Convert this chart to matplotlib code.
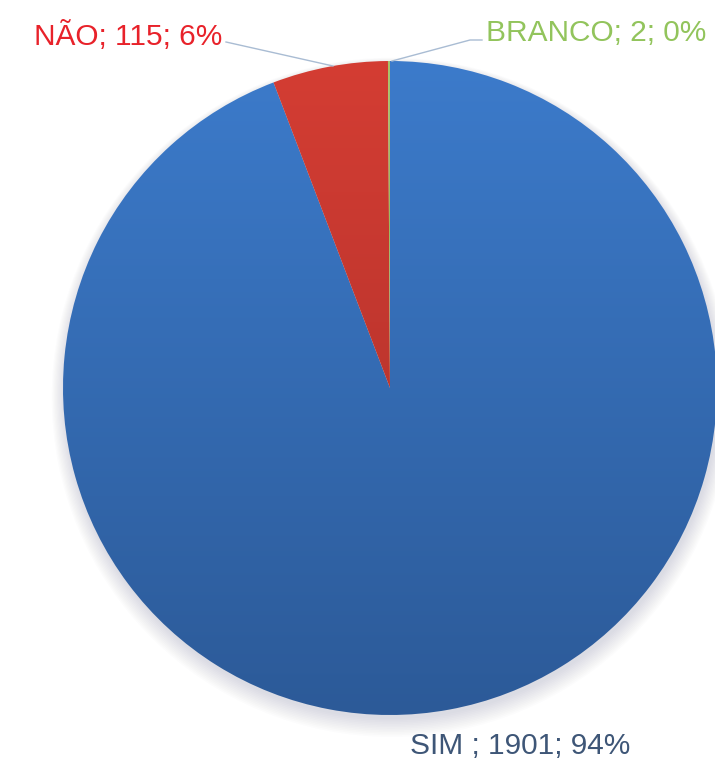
import matplotlib.pyplot as plt
import matplotlib.colors as mcolors
import numpy as np
from matplotlib.patches import Circle

labels = ['SIM', 'NÃO', 'BRANCO']
votes = [1901, 115, 2]
percents = ['94%', '6%', '0%']

top_colors = ['#3c7bcb', '#d43d33', '#a8c46a']
bottom_colors = ['#2c5a98', '#a82e29', '#7f9a45']
label_colors = ['#3e5677', '#e8222a', '#92c45c']

plt.rcParams['font.family'] = ['Liberation Sans Narrow', 'Liberation Sans', 'DejaVu Sans']

fig = plt.figure(figsize=(7.15, 7.72), dpi=100)
ax = fig.add_axes([0, 0, 1, 1])
R = 327.0
ax.set_aspect('equal')
ax.axis('off')

# soft shadow under the pie
for k in range(12):
    s = Circle((0.004, -0.012 - k * 0.0015), 1.0 + k * 0.0035,
               color='#6b7a90', alpha=0.018, lw=0, zorder=0)
    ax.add_patch(s)

wedges, _ = ax.pie(votes, startangle=90, counterclock=False, radius=1.0,
                   center=(0, 0), wedgeprops=dict(linewidth=0))
ax.set_xlim(-390 / R, 325 / R)
ax.set_ylim(-384 / R, 388 / R)

# vertical gradients clipped to each wedge
for w, c1, c2 in zip(wedges, top_colors, bottom_colors):
    cmap = mcolors.LinearSegmentedColormap.from_list('g', [c2, c1])
    grad = np.linspace(0, 1, 256).reshape(-1, 1)
    w.set_facecolor('none')
    im = ax.imshow(grad, cmap=cmap, origin='lower', extent=(-1, 1, -1, 1),
                   aspect='auto', zorder=2)
    im.set_clip_path(w)

# labels with leader lines
txt = [f'{l}; {v}; {p}' for l, v, p in zip(labels, votes, percents)]
txt[0] = f'{labels[0]} ; {votes[0]}; {percents[0]}'

def px(x, y):
    return ((x - 390) / R, (388 - y) / R)

ax.text(*px(410, 746), txt[0], color=label_colors[0], fontsize=21.5,
        ha='left', va='center')
ax.text(*px(222, 36), txt[1], color=label_colors[1], fontsize=21.5,
        ha='right', va='center')
ax.text(*px(486, 33), txt[2], color=label_colors[2], fontsize=21.5,
        ha='left', va='center')

x0, y0 = px(226, 42)
x1, y1 = px(333, 66)
ax.plot([x0, x1], [y0, y1], color='#a9bcd3', lw=1, zorder=3)
x0, y0 = px(482, 40)
x1, y1 = px(470, 40)
x2, y2 = px(392, 61)
ax.plot([x0, x1, x2], [y0, y1, y2], color='#a9bcd3', lw=1, zorder=3)

plt.savefig('out.png', dpi=100)
plt.close()
